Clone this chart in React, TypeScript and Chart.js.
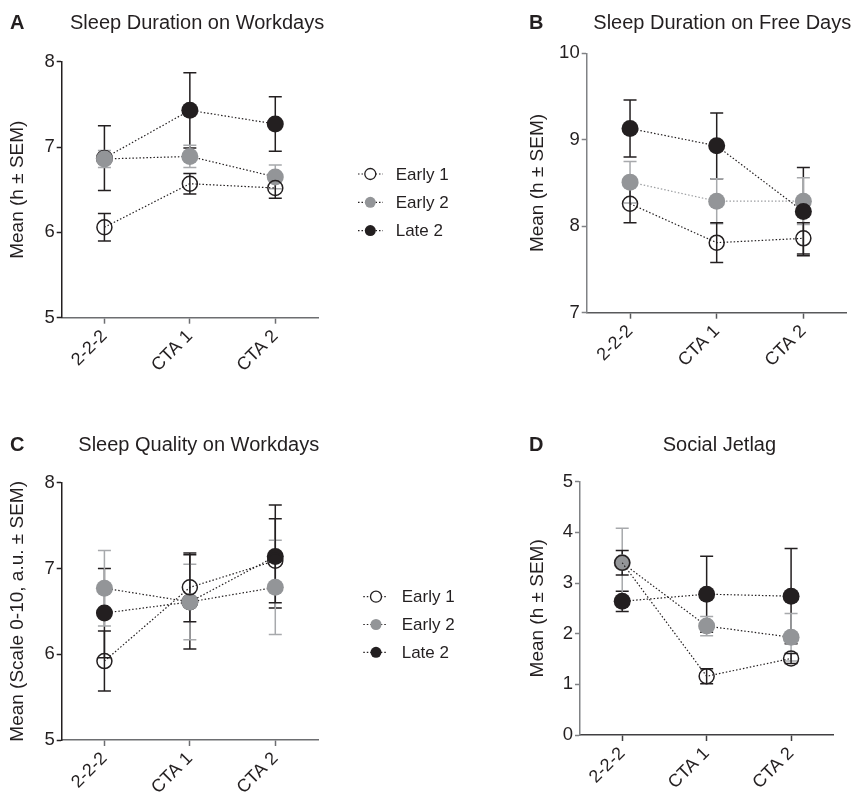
import React, { useEffect, useRef } from "react";
import { Chart, registerables } from "chart.js";

Chart.register(...registerables);

const FONT = "'Liberation Sans', Arial, Helvetica, sans-serif";
Chart.defaults.font.family = FONT;

// ---------- data ----------
const categories = ["2-2-2", "CTA 1", "CTA 2"];
const seriesNames = ["Early 1", "Early 2", "Late 2"];

// A: Sleep Duration on Workdays
const workEarly1 = [6.06, 6.57, 6.52];
const workEarly1Sem = [0.16, 0.12, 0.12];
const workEarly2 = [6.86, 6.89, 6.65];
const workEarly2Sem = [0.1, 0.13, 0.14];
const workLate2 = [6.87, 7.43, 7.27];
const workLate2Sem = [0.38, 0.44, 0.32];

// B: Sleep Duration on Free Days
const freeEarly1 = [8.26, 7.81, 7.86];
const freeEarly1Sem = [0.22, 0.23, 0.18];
const freeEarly2 = [8.51, 8.29, 8.29];
const freeEarly2Sem = [0.24, 0.26, 0.27];
const freeLate2 = [9.13, 8.93, 8.17];
const freeLate2Sem = [0.33, 0.38, 0.51];

// C: Sleep Quality on Workdays
const qualEarly1 = [5.92, 6.78, 7.09];
const qualEarly1Sem = [0.35, 0.4, 0.49];
const qualEarly2 = [6.77, 6.61, 6.78];
const qualEarly2Sem = [0.44, 0.44, 0.55];
const qualLate2 = [6.48, 6.61, 7.14];
const qualLate2Sem = [0.52, 0.55, 0.6];

// D: Social Jetlag
const jetEarly1 = [3.4, 1.16, 1.51];
const jetEarly1Sem = [0.24, 0.15, 0.1];
const jetEarly2 = [3.4, 2.15, 1.93];
const jetEarly2Sem = [0.68, 0.19, 0.47];
const jetLate2 = [2.64, 2.78, 2.74];
const jetLate2Sem = [0.2, 0.75, 0.94];

// ---------- styles ----------
const BLACK = "#231f20";
const GRAY = "#939598";
const GRAY_ERR = "#a7a9ac";

const errorBarPlugin = {
  id: "errorBars",
  beforeDatasetsDraw(chart: any) {
    const ctx = chart.ctx;
    const ys = chart.scales.y;
    const ds = chart.data.datasets;
    ctx.save();
    for (let i = ds.length - 1; i >= 0; i--) {
      const d = ds[i];
      const meta = chart.getDatasetMeta(i);
      ctx.strokeStyle = d.errColor;
      ctx.lineWidth = 1.5;
      meta.data.forEach((pt: any, j: number) => {
        const v = d.data[j];
        const s = d.sem[j];
        const x = pt.x;
        const yTop = ys.getPixelForValue(v + s);
        const yBot = ys.getPixelForValue(v - s);
        const cap = 6.5;
        ctx.beginPath();
        ctx.moveTo(x, yTop);
        ctx.lineTo(x, yBot);
        ctx.moveTo(x - cap, yTop);
        ctx.lineTo(x + cap, yTop);
        ctx.moveTo(x - cap, yBot);
        ctx.lineTo(x + cap, yBot);
        ctx.stroke();
      });
    }
    ctx.restore();
  },
};

const titlePlugin = {
  id: "panelTitle",
  afterDraw(chart: any, _args: any, opts: any) {
    if (!opts || !opts.text) return;
    const ctx = chart.ctx;
    ctx.save();
    ctx.fillStyle = BLACK;
    ctx.textBaseline = "alphabetic";
    ctx.textAlign = "left";
    ctx.font = `bold 20px ${FONT}`;
    ctx.fillText(opts.letter, opts.letterX, opts.baseline);
    ctx.font = `20px ${FONT}`;
    ctx.fillText(opts.text, opts.titleX, opts.baseline);
    ctx.restore();
  },
};

const legendPlugin = {
  id: "sideLegend",
  afterDraw(chart: any, _args: any, opts: any) {
    if (!opts || !opts.show) return;
    const ctx = chart.ctx;
    ctx.save();
    chart.data.datasets.forEach((d: any, i: number) => {
      const y = opts.top + i * opts.gap;
      ctx.strokeStyle = BLACK;
      ctx.lineWidth = 1.2;
      ctx.setLineDash([1.5, 2]);
      ctx.beginPath();
      ctx.moveTo(opts.x0, y);
      ctx.lineTo(opts.x1, y);
      ctx.stroke();
      ctx.setLineDash([]);
      ctx.beginPath();
      ctx.arc(opts.mx, y, 5.5, 0, Math.PI * 2);
      if (d.hollow) {
        ctx.fillStyle = "#ffffff";
        ctx.fill();
        ctx.lineWidth = 1.3;
        ctx.strokeStyle = BLACK;
        ctx.stroke();
      } else {
        ctx.fillStyle = d.pointBackgroundColor;
        ctx.fill();
      }
      ctx.fillStyle = BLACK;
      ctx.font = `17px ${FONT}`;
      ctx.textBaseline = "middle";
      ctx.textAlign = "left";
      ctx.fillText(d.label, opts.tx, y + 1);
    });
    ctx.restore();
  },
};

type PanelDef = {
  left: number;
  top: number;
  width: number;
  height: number;
  pad: { left: number; top: number; right: number; bottom: number };
  yWidth: number;
  xHeight: number;
  yMin: number;
  yMax: number;
  yTitle: string;
  yAxisColor: string;
  xAxisColor: string;
  series: number[][];
  sems: number[][];
  orders: number[];
  lineColors: string[];
  title: any;
  legend: any;
};

function makeDatasets(p: PanelDef) {
  return seriesNames.map((name, i) => {
    const hollow = i === 0;
    const fill = i === 0 ? "rgba(255,255,255,0)" : i === 1 ? GRAY : BLACK;
    return {
      label: name,
      data: p.series[i],
      sem: p.sems[i],
      errColor: i === 1 ? GRAY_ERR : BLACK,
      hollow,
      order: p.orders[i],
      borderColor: p.lineColors[i],
      borderWidth: 1.2,
      borderDash: [1.5, 2],
      fill: false,
      tension: 0,
      pointStyle: "circle",
      pointRadius: hollow ? 7.5 : 8.5,
      pointHoverRadius: hollow ? 7.5 : 8.5,
      pointBackgroundColor: fill,
      pointBorderColor: hollow ? BLACK : fill,
      pointBorderWidth: hollow ? 1.5 : 0,
    };
  });
}

function Panel({ p }: { p: PanelDef }) {
  const ref = useRef<HTMLCanvasElement | null>(null);
  useEffect(() => {
    if (!ref.current) return;
    const chart = new Chart(ref.current, {
      type: "line",
      data: { labels: categories, datasets: makeDatasets(p) as any },
      plugins: [errorBarPlugin, titlePlugin, legendPlugin],
      options: {
        responsive: false,
        animation: false,
        events: [],
        layout: { padding: p.pad },
        plugins: {
          legend: { display: false },
          tooltip: { enabled: false },
          title: { display: false },
          panelTitle: p.title,
          sideLegend: p.legend,
        } as any,
        scales: {
          x: {
            type: "category",
            offset: true,
            afterFit: (s: any) => {
              s.height = p.xHeight;
            },
            grid: {
              display: true,
              drawOnChartArea: false,
              drawTicks: true,
              tickLength: 6,
              tickWidth: 1.5,
              color: p.xAxisColor,
              offset: false,
            },
            border: { display: true, color: p.xAxisColor, width: 1.5 },
            ticks: {
              color: BLACK,
              font: { size: 18, family: FONT },
              maxRotation: 45,
              minRotation: 45,
              autoSkip: false,
              padding: 2,
            },
          },
          y: {
            type: "linear",
            min: p.yMin,
            max: p.yMax,
            afterFit: (s: any) => {
              s.width = p.yWidth;
            },
            grid: {
              display: true,
              drawOnChartArea: false,
              drawTicks: true,
              tickLength: 5,
              tickWidth: 1.5,
              color: p.yAxisColor,
            },
            border: { display: true, color: p.yAxisColor, width: 1.5 },
            ticks: {
              stepSize: 1,
              color: BLACK,
              font: { size: 18.5, family: FONT },
              padding: 2,
            },
            title: {
              display: true,
              text: p.yTitle,
              color: BLACK,
              font: { size: 19, family: FONT },
              padding: { top: 6, bottom: 0 },
            },
          },
        },
      } as any,
    });
    return () => chart.destroy();
  }, []);
  return (
    <canvas
      ref={ref}
      width={p.width}
      height={p.height}
      style={{ position: "absolute", left: p.left, top: p.top, width: p.width, height: p.height, display: "block" }}
    />
  );
}

const panels: PanelDef[] = [
  {
    left: 0,
    top: 0,
    width: 470,
    height: 400,
    pad: { left: 0, top: 61.7, right: 152, bottom: 0 },
    yWidth: 61.7,
    xHeight: 82.3,
    yMin: 5,
    yMax: 8,
    yTitle: "Mean (h ± SEM)",
    yAxisColor: BLACK,
    xAxisColor: "#6d6e71",
    series: [workEarly1, workEarly2, workLate2],
    sems: [workEarly1Sem, workEarly2Sem, workLate2Sem],
    orders: [0, 1, 2],
    lineColors: [BLACK, BLACK, BLACK],
    title: { letter: "A", text: "Sleep Duration on Workdays", letterX: 10, titleX: 70, baseline: 29 },
    legend: { show: true, x0: 358, x1: 383, mx: 370.3, tx: 395.7, top: 174, gap: 28.3 },
  },
  {
    left: 520,
    top: 0,
    width: 347,
    height: 400,
    pad: { left: 0, top: 53.3, right: 20.3, bottom: 0 },
    yWidth: 66.7,
    xHeight: 87.3,
    yMin: 7,
    yMax: 10,
    yTitle: "Mean (h ± SEM)",
    yAxisColor: "#808285",
    xAxisColor: "#58595b",
    series: [freeEarly1, freeEarly2, freeLate2],
    sems: [freeEarly1Sem, freeEarly2Sem, freeLate2Sem],
    orders: [0, 2, 1],
    lineColors: [BLACK, "#9d9fa2", BLACK],
    title: { letter: "B", text: "Sleep Duration on Free Days", letterX: 9, titleX: 73.3, baseline: 29 },
    legend: { show: false },
  },
  {
    left: 0,
    top: 400,
    width: 470,
    height: 392,
    pad: { left: 0, top: 82.7, right: 152, bottom: 0 },
    yWidth: 61.7,
    xHeight: 52,
    yMin: 5,
    yMax: 8,
    yTitle: "Mean (Scale 0-10, a.u. ± SEM)",
    yAxisColor: BLACK,
    xAxisColor: "#6d6e71",
    series: [qualEarly1, qualEarly2, qualLate2],
    sems: [qualEarly1Sem, qualEarly2Sem, qualLate2Sem],
    orders: [0, 1, 2],
    lineColors: [BLACK, BLACK, BLACK],
    title: { letter: "C", text: "Sleep Quality on Workdays", letterX: 10, titleX: 78.3, baseline: 51 },
    legend: { show: true, x0: 363.3, x1: 387.3, mx: 376, tx: 401.7, top: 196.7, gap: 27.8 },
  },
  {
    left: 520,
    top: 400,
    width: 347,
    height: 392,
    pad: { left: 0, top: 81.7, right: 33.7, bottom: 0 },
    yWidth: 60,
    xHeight: 57,
    yMin: 0,
    yMax: 5,
    yTitle: "Mean (h ± SEM)",
    yAxisColor: "#808285",
    xAxisColor: "#414042",
    series: [jetEarly1, jetEarly2, jetLate2],
    sems: [jetEarly1Sem, jetEarly2Sem, jetLate2Sem],
    orders: [0, 1, 2],
    lineColors: [BLACK, BLACK, BLACK],
    title: { letter: "D", text: "Social Jetlag", letterX: 9, titleX: 142.7, baseline: 51 },
    legend: { show: false },
  },
];

export default function App() {
  return (
    <div style={{ position: "absolute", left: 0, top: 0, width: 867, height: 792, background: "#ffffff", overflow: "hidden" }}>
      {panels.map((p, i) => (
        <Panel key={i} p={p} />
      ))}
    </div>
  );
}
